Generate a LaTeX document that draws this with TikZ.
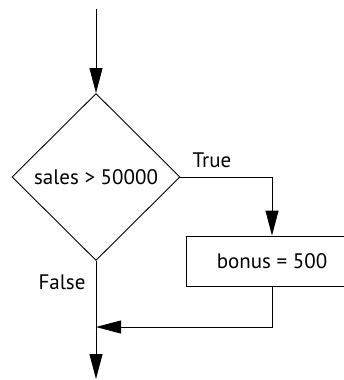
\documentclass[tikz,border=0pt]{standalone}
\usepackage{fontspec}
\setmainfont{PT Sans}
\usetikzlibrary{arrows.meta,shapes.geometric}

\begin{document}
\begin{tikzpicture}[x=1pt,y=-1pt,
  flow/.style={black, line width=0.9pt, -{Triangle[length=25pt,width=13pt]}},
  decision/.style={draw, line width=0.9pt, diamond, aspect=1, inner sep=0pt,
    minimum width=168pt, minimum height=167pt, font=\fontsize{21}{25}\selectfont},
  process/.style={draw, line width=0.9pt, rectangle, inner sep=0pt,
    minimum width=172pt, minimum height=50pt, font=\fontsize{21}{25}\selectfont},
  lbl/.style={font=\fontsize{21}{25}\selectfont}]
\useasboundingbox (0,0) rectangle (343,380);
\coordinate (start) at (96,9);
\node[decision] (test) at (96,177) {sales > 50000};
\node[process] (bonus) at (272,261) {bonus = 500};
\coordinate (join) at (96,327);
\coordinate (stop) at (96,379);
\node[lbl] (true) at (212,160) {True};
\node[lbl] (false) at (62,282) {False};
\draw[flow] (start) -- (test.north);
\draw[flow] (test.east) -| (bonus.north);
\draw[flow] (bonus.south) |- (join);
\draw[flow] (test.south) -- (stop);
\end{tikzpicture}
\end{document}
